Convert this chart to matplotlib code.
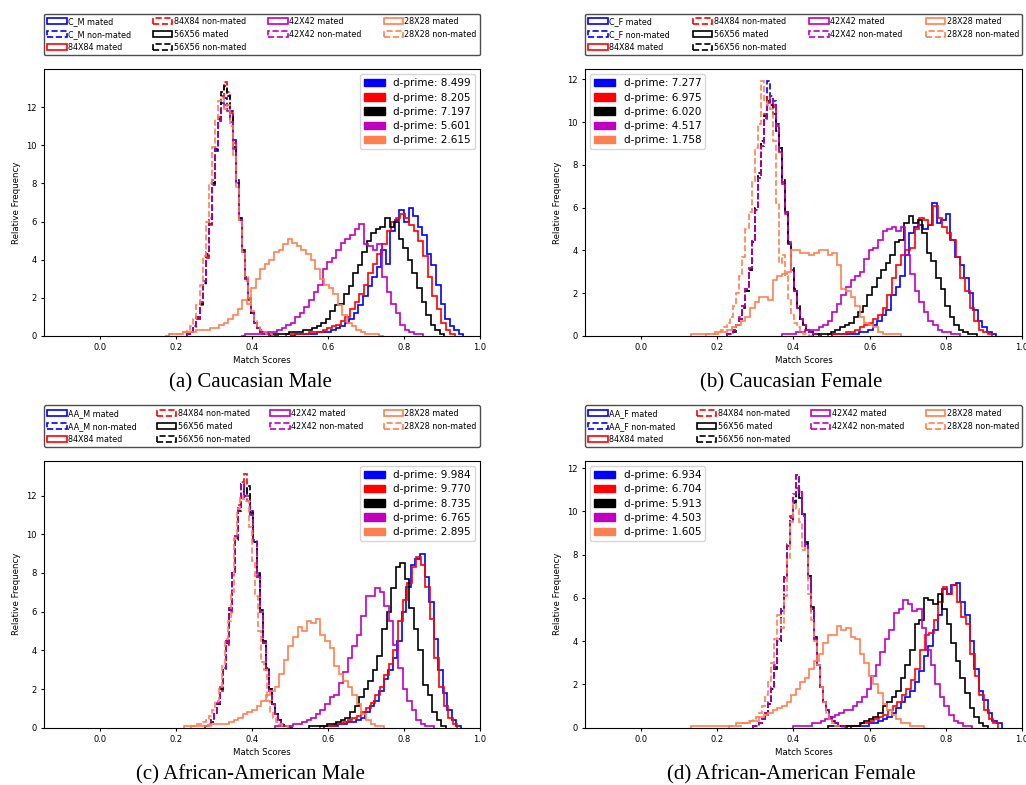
import numpy as np
import matplotlib.pyplot as plt
from matplotlib.patches import Patch

# histogram bin widths (mated / non-mated score distributions)
MATED_W = 0.012
NONMATED_W = 0.008

resolutions = ["84X84", "56X56", "42X42", "28X28"]
colors = ["b", "r", "k", "m", "coral"]

# ---- (a) Caucasian Male ----  (bar heights in tenths)
a_group = "C_M"
a_caption = "(a) Caucasian Male"
a_dprime = ["8.499", "8.205", "7.197", "5.601", "2.615"]
a_mated_start = [0.50, 0.49, 0.45, 0.37, 0.17]
a_nonmated_start = [0.23, 0.23, 0.23, 0.23, 0.182]
a_full_mated = [0, 1, 1, 1, 1, 1, 2, 2, 2, 3, 4, 5, 7, 9, 12, 16, 21, 26, 31, 36, 45, 38, 55, 61, 66, 60, 67, 63, 57, 53, 43, 37, 27, 17, 9, 5, 3, 1]
a_84_mated = [1, 1, 1, 1, 1, 2, 2, 2, 3, 4, 5, 6, 8, 10, 14, 18, 22, 27, 33, 38, 43, 48, 55, 60, 62, 64, 62, 58, 55, 50, 42, 31, 21, 14, 7, 3, 1]
a_56_mated = [1, 1, 1, 1, 2, 2, 2, 3, 3, 4, 5, 7, 9, 13, 16, 17, 22, 26, 33, 37, 44, 50, 54, 56, 57, 62, 57, 60, 51, 46, 40, 33, 25, 18, 11, 6, 3, 1]
a_42_mated = [0, 1, 1, 1, 1, 1, 2, 2, 3, 4, 6, 7, 10, 12, 15, 19, 23, 27, 35, 39, 41, 45, 49, 51, 53, 56, 59, 48, 47, 45, 48, 31, 23, 17, 12, 6, 3, 2, 1, 1]
a_28_mated = [0, 1, 1, 1, 2, 2, 2, 3, 3, 3, 4, 4, 6, 7, 9, 11, 14, 19, 17, 25, 30, 35, 38, 40, 44, 45, 48, 51, 49, 47, 45, 43, 40, 35, 30, 27, 25, 22, 16, 11, 7, 5, 3, 2, 1, 1, 1, 0]
a_full_nonmated = [1, 2, 4, 9, 17, 28, 42, 59, 79, 97, 113, 122, 125, 121, 118, 103, 82, 62, 44, 30, 19, 12, 7, 4, 3, 2, 1, 1, 0, 0]
a_84_nonmated = [1, 2, 4, 9, 16, 27, 41, 58, 80, 99, 115, 126, 133, 128, 117, 101, 81, 61, 44, 29, 19, 12, 7, 4, 2, 1, 1, 0, 0, 0]
a_56_nonmated = [1, 2, 5, 10, 17, 28, 43, 61, 80, 98, 114, 128, 131, 126, 115, 99, 80, 62, 45, 31, 20, 12, 7, 4, 2, 1, 1, 1, 0, 0]
a_42_nonmated = [1, 2, 5, 10, 18, 29, 44, 62, 82, 99, 113, 120, 121, 118, 112, 98, 80, 61, 44, 30, 20, 12, 7, 4, 2, 1, 1, 0, 0, 0]
a_28_nonmated = [1, 1, 1, 1, 2, 2, 3, 5, 9, 16, 27, 42, 60, 80, 99, 114, 123, 125, 119, 121, 110, 95, 78, 60, 44, 31, 20, 13, 8, 5, 3, 2, 1, 1, 0]

# ---- (b) Caucasian Female ----
b_group = "C_F"
b_caption = "(b) Caucasian Female"
b_dprime = ["7.277", "6.975", "6.020", "4.517", "1.758"]
b_mated_start = [0.50, 0.49, 0.45, 0.37, 0.13]
b_nonmated_start = [0.226, 0.226, 0.226, 0.226, 0.17]
b_full_mated = [1, 1, 1, 1, 1, 1, 2, 2, 3, 5, 7, 10, 12, 19, 23, 28, 38, 48, 51, 52, 50, 52, 62, 53, 54, 57, 45, 37, 33, 27, 20, 12, 7, 4, 2, 1]
b_84_mated = [1, 1, 1, 1, 2, 2, 3, 4, 5, 6, 8, 10, 13, 19, 27, 33, 38, 40, 41, 50, 55, 54, 52, 61, 55, 51, 48, 45, 37, 27, 21, 13, 7, 3, 2, 1]
b_56_mated = [1, 1, 1, 1, 2, 3, 4, 5, 6, 9, 11, 14, 19, 23, 27, 31, 34, 38, 44, 45, 53, 56, 53, 54, 48, 39, 35, 27, 22, 14, 9, 5, 3, 2, 1, 1]
b_42_mated = [1, 1, 1, 2, 2, 3, 3, 3, 4, 5, 7, 11, 15, 19, 23, 26, 28, 30, 36, 40, 41, 45, 49, 50, 51, 49, 51, 38, 29, 21, 16, 11, 7, 5, 3, 2, 2, 1, 1]
b_28_mated = [1, 1, 1, 1, 1, 1, 2, 2, 3, 4, 5, 7, 9, 13, 16, 18, 18, 17, 26, 28, 29, 30, 40, 40, 39, 39, 38, 39, 40, 40, 38, 39, 33, 22, 21, 18, 14, 9, 6, 5, 4, 2, 1, 1, 1, 1]
b_full_nonmated = [1, 1, 3, 5, 8, 14, 21, 31, 44, 59, 74, 89, 102, 119, 112, 110, 99, 88, 72, 58, 43, 31, 21, 13, 8, 5, 3, 2, 1, 1, 0]
b_84_nonmated = [1, 1, 3, 5, 9, 14, 22, 32, 45, 60, 75, 90, 104, 112, 110, 108, 98, 86, 71, 57, 43, 31, 21, 13, 8, 5, 3, 2, 1, 1, 0]
b_56_nonmated = [1, 1, 2, 5, 8, 13, 21, 31, 44, 60, 76, 91, 103, 110, 108, 104, 96, 88, 73, 58, 44, 32, 22, 14, 8, 5, 3, 2, 1, 1, 0]
b_42_nonmated = [1, 1, 3, 5, 8, 14, 22, 32, 45, 59, 74, 89, 101, 109, 111, 107, 97, 86, 72, 58, 44, 31, 21, 13, 8, 5, 3, 2, 1, 1, 0]
b_28_nonmated = [1, 1, 1, 2, 2, 3, 4, 6, 9, 14, 20, 28, 37, 50, 58, 72, 88, 99, 119, 110, 108, 106, 91, 62, 34, 38, 28, 17, 10, 6, 4, 2, 1, 1, 0]

# ---- (c) African-American Male ----
c_group = "AA_M"
c_caption = "(c) African-American Male"
c_dprime = ["9.984", "9.770", "8.735", "6.765", "2.895"]
c_mated_start = [0.59, 0.58, 0.55, 0.46, 0.22]
c_nonmated_start = [0.276, 0.276, 0.276, 0.276, 0.240]
c_full_mated = [1, 1, 1, 2, 2, 3, 3, 4, 5, 8, 11, 14, 19, 25, 30, 36, 45, 60, 73, 84, 87, 90, 78, 65, 46, 30, 18, 9, 4, 1]
c_84_mated = [1, 1, 1, 2, 2, 3, 4, 5, 6, 8, 10, 13, 17, 21, 27, 33, 40, 55, 66, 75, 83, 88, 84, 73, 56, 36, 21, 11, 5, 2]
c_56_mated = [1, 1, 1, 1, 2, 2, 3, 4, 5, 8, 11, 16, 20, 24, 30, 37, 51, 60, 72, 83, 85, 77, 62, 51, 40, 22, 17, 8, 4, 1]
c_42_mated = [1, 1, 1, 1, 2, 2, 3, 4, 5, 7, 9, 12, 16, 17, 23, 29, 36, 42, 48, 58, 68, 68, 72, 70, 63, 55, 43, 31, 20, 14, 9, 4, 2, 1, 1]
c_28_mated = [1, 1, 1, 1, 1, 1, 2, 2, 2, 2, 3, 4, 5, 7, 8, 9, 11, 14, 17, 19, 21, 28, 35, 42, 47, 52, 50, 55, 54, 56, 48, 45, 41, 32, 28, 24, 21, 17, 12, 7, 4, 2, 1, 1]
c_full_nonmated = [1, 2, 4, 7, 12, 20, 30, 44, 61, 79, 98, 113, 122, 124, 121, 112, 97, 79, 61, 44, 31, 20, 12, 7, 4, 2, 1, 1, 0]
c_84_nonmated = [1, 2, 4, 7, 12, 19, 30, 43, 60, 80, 99, 115, 127, 131, 120, 110, 96, 78, 60, 44, 30, 19, 12, 7, 4, 2, 1, 1, 0]
c_56_nonmated = [1, 2, 3, 7, 12, 20, 31, 45, 62, 80, 97, 112, 126, 120, 125, 111, 96, 80, 61, 45, 31, 20, 12, 7, 4, 2, 1, 1, 0]
c_42_nonmated = [1, 2, 4, 7, 13, 21, 31, 45, 62, 80, 99, 114, 126, 119, 117, 110, 96, 78, 60, 44, 30, 19, 12, 7, 4, 2, 1, 1, 0]
c_28_nonmated = [1, 1, 2, 2, 3, 4, 6, 9, 14, 21, 32, 46, 55, 70, 98, 113, 120, 118, 117, 104, 86, 68, 50, 34, 30, 14, 8, 5, 3, 2, 1, 1, 0]

# ---- (d) African-American Female ----
d_group = "AA_F"
d_caption = "(d) African-American Female"
d_dprime = ["6.934", "6.704", "5.913", "4.503", "1.605"]
d_mated_start = [0.55, 0.54, 0.49, 0.40, 0.13]
d_nonmated_start = [0.294, 0.294, 0.294, 0.294, 0.23]
d_full_mated = [1, 1, 1, 1, 2, 2, 3, 4, 5, 7, 9, 12, 14, 17, 21, 26, 33, 38, 45, 52, 64, 62, 66, 67, 58, 52, 40, 27, 17, 13, 7, 3, 2]
d_84_mated = [1, 1, 1, 2, 2, 3, 4, 5, 6, 8, 10, 12, 15, 18, 22, 27, 36, 43, 44, 50, 58, 65, 62, 66, 58, 51, 48, 34, 24, 15, 8, 4, 2]
d_56_mated = [1, 1, 1, 1, 1, 1, 1, 2, 3, 4, 5, 7, 10, 12, 14, 17, 23, 29, 36, 48, 50, 60, 59, 57, 62, 55, 48, 39, 31, 23, 16, 9, 5, 2, 1]
d_42_mated = [1, 1, 1, 1, 2, 2, 3, 4, 5, 6, 7, 8, 8, 10, 12, 14, 18, 24, 29, 35, 41, 45, 53, 55, 59, 57, 54, 55, 46, 36, 29, 20, 14, 10, 6, 3, 2, 1, 1]
d_28_mated = [1, 1, 1, 1, 1, 1, 1, 1, 1, 1, 2, 2, 2, 3, 3, 5, 6, 7, 8, 9, 10, 12, 15, 18, 21, 23, 27, 31, 34, 39, 43, 43, 47, 45, 46, 42, 41, 34, 30, 24, 20, 16, 11, 8, 6, 4, 2, 2, 1, 1, 1]
d_full_nonmated = [1, 1, 2, 4, 7, 11, 18, 28, 40, 54, 69, 84, 97, 105, 110, 108, 99, 85, 70, 55, 41, 29, 19, 12, 8, 5, 3, 2, 1, 1, 0]
d_84_nonmated = [1, 1, 2, 4, 7, 11, 18, 28, 41, 55, 70, 85, 98, 106, 111, 109, 98, 84, 69, 55, 41, 29, 19, 12, 8, 5, 3, 2, 1, 1, 0]
d_56_nonmated = [1, 1, 2, 4, 6, 11, 18, 27, 40, 55, 70, 84, 96, 104, 117, 106, 99, 86, 70, 56, 42, 29, 19, 12, 8, 5, 3, 2, 1, 1, 0]
d_42_nonmated = [1, 1, 2, 4, 7, 12, 19, 29, 41, 55, 70, 84, 97, 108, 117, 110, 98, 84, 69, 54, 41, 29, 19, 12, 8, 5, 3, 2, 1, 1, 0]
d_28_nonmated = [1, 1, 1, 1, 2, 2, 3, 3, 4, 5, 7, 10, 15, 21, 30, 41, 52, 46, 61, 78, 95, 104, 101, 95, 82, 83, 62, 50, 40, 29, 19, 12, 7, 4, 2, 1, 1, 0]

panels = [
    (a_group, a_caption, a_dprime, a_mated_start, a_nonmated_start,
     [a_full_mated, a_84_mated, a_56_mated, a_42_mated, a_28_mated],
     [a_full_nonmated, a_84_nonmated, a_56_nonmated, a_42_nonmated, a_28_nonmated]),
    (b_group, b_caption, b_dprime, b_mated_start, b_nonmated_start,
     [b_full_mated, b_84_mated, b_56_mated, b_42_mated, b_28_mated],
     [b_full_nonmated, b_84_nonmated, b_56_nonmated, b_42_nonmated, b_28_nonmated]),
    (c_group, c_caption, c_dprime, c_mated_start, c_nonmated_start,
     [c_full_mated, c_84_mated, c_56_mated, c_42_mated, c_28_mated],
     [c_full_nonmated, c_84_nonmated, c_56_nonmated, c_42_nonmated, c_28_nonmated]),
    (d_group, d_caption, d_dprime, d_mated_start, d_nonmated_start,
     [d_full_mated, d_84_mated, d_56_mated, d_42_mated, d_28_mated],
     [d_full_nonmated, d_84_nonmated, d_56_nonmated, d_42_nonmated, d_28_nonmated]),
]

# layout (figure fractions) and per-panel settings
axes_pos = [[0.0429, 0.572, 0.425, 0.340], [0.5702, 0.572, 0.426, 0.340],
            [0.0429, 0.073, 0.425, 0.340], [0.5702, 0.073, 0.426, 0.340]]
y_tops = [14.0, 12.48, 13.8, 12.34]
dprime_loc = ["upper right", "upper left", "upper right", "upper left"]
caption_xy = [(0.2437, 0.512), (0.771, 0.512), (0.2437, 0.0127), (0.771, 0.0127)]


def step_hist(ax, start, width, tenths, color, ls, label):
    vals = np.array(tenths) / 10.0
    edges = start + width * np.arange(len(vals) + 1)
    centers = edges[:-1] + width / 2
    ax.hist(centers, bins=edges, weights=vals, histtype="step",
            color=color, linestyle=ls, linewidth=1.2, label=label)


fig = plt.figure(figsize=(10.26, 7.85), dpi=100)

for i, (group, caption, dprime, m_start, n_start, mated, nonmated) in enumerate(panels):
    ax = fig.add_axes(axes_pos[i])
    names = [group] + resolutions
    for k in range(5):
        step_hist(ax, m_start[k], MATED_W, mated[k], colors[k], "-", names[k] + " mated")
        step_hist(ax, n_start[k], NONMATED_W, nonmated[k], colors[k], "--", names[k] + " non-mated")

    ax.set_xlim(-0.147, 1.0)
    ax.set_ylim(0, y_tops[i])
    ax.set_xticks([0.0, 0.2, 0.4, 0.6, 0.8, 1.0])
    ax.set_yticks([0, 2, 4, 6, 8, 10, 12])
    ax.tick_params(labelsize=6, length=2.5, pad=2.5)
    ax.set_xlabel("Match Scores", fontsize=6.2, labelpad=3)
    ax.set_ylabel("Relative Frequency", fontsize=6.2, labelpad=4)

    top = ax.legend(loc="lower left", bbox_to_anchor=(0, 1.052, 1, 0.2), mode="expand",
                    ncol=4, fontsize=5.8, handlelength=2.4, handleheight=0.8,
                    handletextpad=0.2, borderaxespad=0, framealpha=1, edgecolor="0.3")
    ax.add_artist(top)

    dp_handles = [Patch(color=colors[k], label="d-prime: " + dprime[k]) for k in range(5)]
    ax.legend(handles=dp_handles, loc=dprime_loc[i], fontsize=7.5, labelspacing=0.4)

    fig.text(caption_xy[i][0], caption_xy[i][1], caption, ha="center", va="center",
             family="Liberation Serif", fontsize=15)

fig.savefig("out.png", dpi=100)
